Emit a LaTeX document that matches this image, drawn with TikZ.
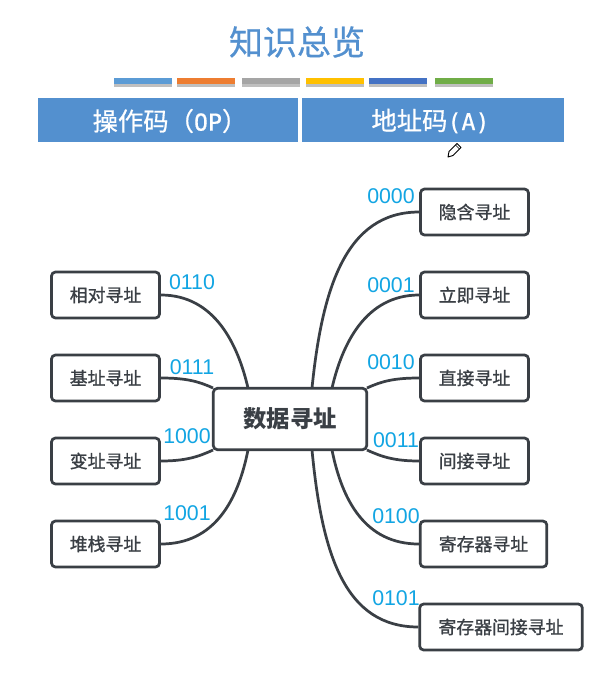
\documentclass[tikz,border=0pt]{standalone}
\usepackage{fontspec}
\setmainfont{Noto Sans CJK SC}
\newfontfamily\latinf{Liberation Sans}
\newfontfamily\monof[FakeBold=0.6]{DejaVu Sans Mono}
\newfontfamily\leaff[FakeBold=1.2]{Noto Sans CJK SC}
\newfontfamily\titlef[FakeBold=0.6]{Noto Sans CJK SC}
\usetikzlibrary{calc}
\definecolor{hdr}{HTML}{5390CF}
\definecolor{ink}{HTML}{3A3F45}
\definecolor{code}{HTML}{12A5E3}
\definecolor{barA}{HTML}{5B9BD5}
\definecolor{barB}{HTML}{ED7D31}
\definecolor{barC}{HTML}{A5A5A5}
\definecolor{barD}{HTML}{FFC000}
\definecolor{barE}{HTML}{4472C4}
\definecolor{barF}{HTML}{70AD47}
\tikzset{
  x=0.75pt,y=-0.75pt,
  leaf/.style={draw=ink,line width=2.05pt,rounded corners=3pt,fill=white,text=ink,minimum height=34.5pt,inner sep=0pt,font=\leaff\fontsize{13.4}{15}\selectfont},
  hub/.style={leaf,minimum width=115pt,minimum height=46pt,font=\bfseries\fontsize{17.5}{20}\selectfont},
  wire/.style={draw=ink,line width=2.05pt},
  codelabel/.style={text=code,inner sep=0pt,font=\latinf\fontsize{16}{18}\selectfont},
  headcell/.style={fill=hdr,minimum height=33pt,inner sep=0pt},
  headtext/.style={text=white,inner sep=0pt,font=\titlef\fontsize{19}{22}\selectfont},
  barcell/.style={minimum height=4.5pt,inner sep=0pt,minimum width=43pt},
  shade/.style={fill=black!55,opacity=.45,minimum height=4.5pt,inner sep=0pt,minimum width=43pt}
}
\begin{document}
\begin{tikzpicture}
\useasboundingbox (0,0) rectangle (600,686);
\fill[white] (0,0) rectangle (600,686);
\node[text=hdr,inner sep=0pt,font=\titlef\fontsize{25.5}{30}\selectfont] (title) at (297,42) {知识总览};
\foreach \n/\cx/\col in {a/143/barA,b/206/barB,c/271/barC,d/335/barD,e/398/barE,f/464/barF}{
  \node[shade] (s\n) at (\cx,83.5) {};
  \node[barcell,fill=\col] (b\n) at (\cx,81) {};
}
\node[headcell,minimum width=195pt] (op) at (168,120) {};
\node[headcell,minimum width=196.5pt] (ad) at (433,120) {};
\node[headtext] (opt) at (170,121) {操作码（{\monof\fontsize{17.5}{22}\selectfont OP}）};
\node[headtext] (adt) at (430.5,121) {地址码{\monof\fontsize{17.5}{22}\selectfont (A)}};
% pencil
\draw[black,line width=.7pt,fill=white,line join=round] (448,157) -- (449,151.5) -- (457,143.5) -- (461,147.5) -- (453,155.5) -- cycle;
\draw[black,line width=.5pt] (455.5,145) -- (459.5,149);

\node[hub,minimum width=115pt] (c) at (290,419) {数据寻址};
\node[leaf,minimum width=81pt] (r1) at (474.5,212) {隐含寻址};
\node[leaf,minimum width=81pt] (r2) at (474.5,295) {立即寻址};
\node[leaf,minimum width=81pt] (r3) at (474.5,378) {直接寻址};
\node[leaf,minimum width=81pt] (r4) at (474.5,461) {间接寻址};
\node[leaf,minimum width=95pt] (r5) at (483.5,544) {寄存器寻址};
\node[leaf,minimum width=122pt] (r6) at (501,627) {寄存器间接寻址};
\node[leaf,minimum width=81pt] (l1) at (105.5,295) {相对寻址};
\node[leaf,minimum width=81pt] (l2) at (105.5,378) {基址寻址};
\node[leaf,minimum width=81pt] (l3) at (105.5,461) {变址寻址};
\node[leaf,minimum width=81pt] (l4) at (105.5,544) {堆栈寻址};

\coordinate (t1) at (312,388);
\coordinate (t2) at (332,388);
\coordinate (t3) at (367,388);
\coordinate (t4) at (367,450);
\coordinate (t5) at (332,450);
\coordinate (t6) at (312,450);
\coordinate (u1) at (248,388);
\coordinate (u2) at (213,388);
\coordinate (u3) at (213,450);
\coordinate (u4) at (248,450);

\draw[wire] (t1) .. controls (322,290) and (345,212) .. (r1.west);
\draw[wire] (t2) .. controls (342,345) and (365,295) .. (r2.west);
\draw[wire] (t3) .. controls (382,381) and (395,378) .. (r3.west);
\draw[wire] (t4) .. controls (382,457) and (395,461) .. (r4.west);
\draw[wire] (t5) .. controls (342,500) and (365,544) .. (r5.west);
\draw[wire] (t6) .. controls (322,555) and (345,627) .. (r6.west);
\draw[wire] (u1) .. controls (238,345) and (215,295) .. (l1.east);
\draw[wire] (u2) .. controls (198,381) and (185,378) .. (l2.east);
\draw[wire] (u3) .. controls (198,457) and (185,461) .. (l3.east);
\draw[wire] (u4) .. controls (238,500) and (215,544) .. (l4.east);

\node[codelabel] (k1) at (391,196) {0000};
\node[codelabel] (k2) at (391,285) {0001};
\node[codelabel] (k3) at (391,362) {0010};
\node[codelabel] (k4) at (396,440) {0011};
\node[codelabel] (k5) at (396,516) {0100};
\node[codelabel] (k6) at (396,598) {0101};
\node[codelabel] (k7) at (192,282) {0110};
\node[codelabel] (k8) at (192,367) {0111};
\node[codelabel] (k9) at (187,436) {1000};
\node[codelabel] (k10) at (187,513) {1001};
\end{tikzpicture}
\end{document}
